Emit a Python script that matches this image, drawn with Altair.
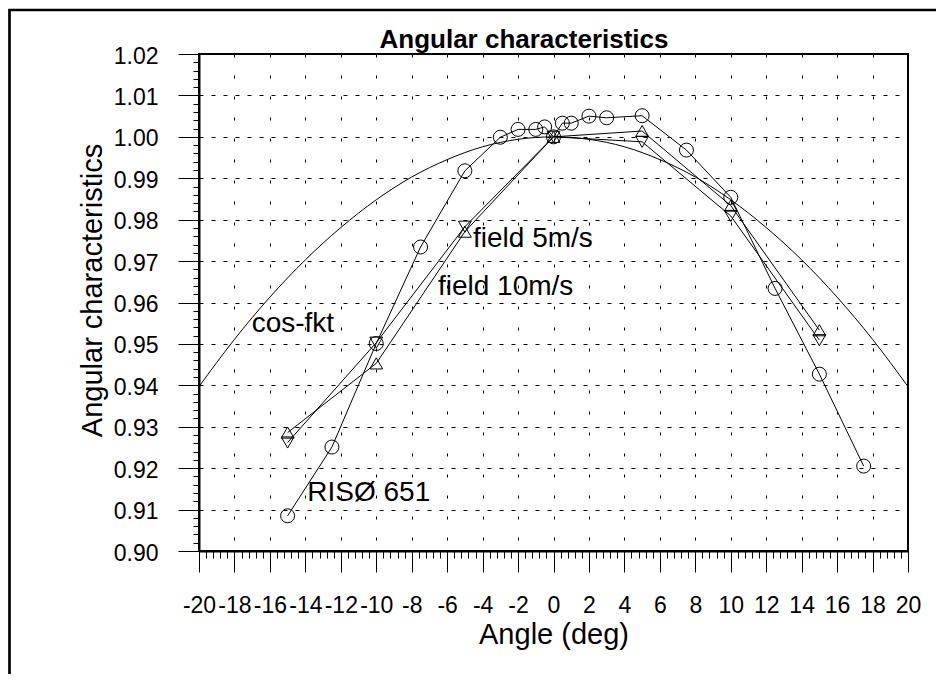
import altair as alt
import pandas as pd

FONT = "Liberation Sans, Arial, sans-serif"

# ---- data ----
cos_x = [-20, -18, -16, -14, -12, -10, -8, -6, -4, -2, 0, 2, 4, 6, 8, 10, 12, 14, 16, 18, 20]
cos_y = [0.9397, 0.9511, 0.9613, 0.9703, 0.9781, 0.9848, 0.9903, 0.9945, 0.9976, 0.9994, 1.0000,
         0.9994, 0.9976, 0.9945, 0.9903, 0.9848, 0.9781, 0.9703, 0.9613, 0.9511, 0.9397]

ris_x = [-15, -12.5, -10, -7.5, -5, -3, -2, -1, -0.5, 0, 0.5, 1, 2, 3, 5, 7.5, 10, 12.5, 15, 17.5]
ris_y = [0.9085, 0.9251, 0.9501, 0.9734, 0.9918, 0.9999, 1.0018, 1.0018, 1.0024, 1.0000,
         1.0033, 1.0033, 1.0050, 1.0046, 1.0051, 0.9968, 0.9854, 0.9634, 0.9427, 0.9205]

field_x = [-15, -10, -5, 0, 5, 10, 15]
f5_y = [0.9262, 0.9503, 0.9783, 1.0000, 0.9988, 0.9809, 0.9509]
f10_y = [0.9286, 0.9453, 0.9771, 1.0000, 1.0014, 0.9834, 0.9533]

label_text = ["cos-fkt", "field 5m/s", "field 10m/s", "RISØ 651"]
label_x = [-17.03, -4.54, -6.52, -13.89]
label_y = [0.9529, 0.9733, 0.9618, 0.9121]

x_major = [-20, -18, -16, -14, -12, -10, -8, -6, -4, -2, 0, 2, 4, 6, 8, 10, 12, 14, 16, 18, 20]
y_major = [0.90, 0.91, 0.92, 0.93, 0.94, 0.95, 0.96, 0.97, 0.98, 0.99, 1.00, 1.01, 1.02]
x_minor = [round(-20 + 0.4 * i, 1) for i in range(101)]
y_minor = [round(0.90 + 0.002 * i, 3) for i in range(61)]

TITLE = "Angular characteristics"

# ---- tables ----
cos_df = pd.DataFrame({"angle": cos_x, "value": cos_y})
ris_df = pd.DataFrame({"angle": ris_x, "value": ris_y})
f5_df = pd.DataFrame({"angle": field_x, "value": f5_y})
f10_df = pd.DataFrame({"angle": field_x, "value": f10_y})
lab_df = pd.DataFrame({"label": label_text, "angle": label_x, "value": label_y})
one = pd.DataFrame({"t": [TITLE]})

xs = alt.Scale(domain=[-20, 20], nice=False)
ys = alt.Scale(domain=[0.90, 1.02], nice=False, zero=False)

major_x = alt.Axis(values=x_major, orient="bottom", tickSize=21, tickColor="black", tickWidth=1,
                   domainColor="black", domainWidth=2, labelFont=FONT, labelFontSize=23,
                   labelColor="black", labelPadding=22, labelFlush=False, labelOverlap=False,
                   labelExpr="datum.value < 0 ? '-' + abs(datum.value) : '' + datum.value",
                   grid=True, gridColor="black", gridDash=[3, 18], gridWidth=1, gridOpacity=1,
                   title="Angle (deg)", titleFont=FONT, titleFontSize=29, titleFontWeight="normal",
                   titleColor="black", titleBaseline="alphabetic", titleY=92)
major_y = alt.Axis(values=y_major, orient="left", format=".2f", tickSize=21, tickColor="black",
                   tickWidth=1, domainColor="black", domainWidth=2, labelFont=FONT, labelFontSize=23,
                   labelColor="black", labelPadding=20, labelOffset=2, labelOverlap=False,
                   labelFlush=False,
                   grid=True, gridColor="black", gridDash=[4, 8], gridWidth=1, gridOpacity=1,
                   title="Angular characteristics", titleFont=FONT, titleFontSize=29,
                   titleFontWeight="normal", titleColor="black", titleBaseline="alphabetic",
                   titleX=-98, titleY=236)
minor_x = alt.Axis(values=x_minor, orient="bottom", tickSize=7, tickColor="black", tickWidth=1,
                   labels=False, domain=False, grid=False, title=None)
minor_y = alt.Axis(values=y_minor, orient="left", tickSize=6, tickColor="black", tickWidth=1,
                   labels=False, domain=False, grid=False, title=None)

cos_layer = alt.Chart(cos_df).mark_line(color="black", strokeWidth=1, interpolate="monotone").encode(
    x=alt.X("angle:Q", scale=xs, axis=minor_x),
    y=alt.Y("value:Q", scale=ys, axis=minor_y),
)

ris_line = alt.Chart(ris_df).mark_line(color="black", strokeWidth=1).encode(
    x=alt.X("angle:Q", scale=xs, axis=major_x),
    y=alt.Y("value:Q", scale=ys, axis=major_y),
)
ris_pts = alt.Chart(ris_df).mark_point(shape="circle", filled=False, size=196, color="black",
                                       strokeWidth=1, opacity=1).encode(
    x=alt.X("angle:Q", scale=xs, axis=None),
    y=alt.Y("value:Q", scale=ys, axis=None),
)

def field_layers(df, shape):
    line = alt.Chart(df).mark_line(color="black", strokeWidth=1).encode(
        x=alt.X("angle:Q", scale=xs, axis=None),
        y=alt.Y("value:Q", scale=ys, axis=None),
    )
    pts = alt.Chart(df).mark_point(shape=shape, filled=False, size=165, color="black",
                                   strokeWidth=1, opacity=1).encode(
        x=alt.X("angle:Q", scale=xs, axis=None),
        y=alt.Y("value:Q", scale=ys, axis=None),
    )
    return [line, pts]

labels = alt.Chart(lab_df).mark_text(font=FONT, fontSize=28, color="black", align="left",
                                     baseline="alphabetic").encode(
    x=alt.X("angle:Q", scale=xs, axis=None),
    y=alt.Y("value:Q", scale=ys, axis=None),
    text="label:N",
)

title_mark = alt.Chart(one).mark_text(font=FONT, fontSize=26, fontWeight="bold", color="black",
                                      align="center", baseline="alphabetic").encode(
    x=alt.value(325), y=alt.value(-6.5), text="t:N"
)

frame = alt.Chart(one).mark_rect(fill="transparent", stroke="black", strokeWidth=2.7).encode(
    x=alt.value(-189.5), x2=alt.value(780), y=alt.value(-44), y2=alt.value(700)
)

chart = alt.layer(
    cos_layer, ris_line, ris_pts,
    *field_layers(f5_df, "triangle-down"),
    *field_layers(f10_df, "triangle-up"),
    labels, title_mark, frame,
).resolve_axis(x="independent", y="independent").properties(
    width=709, height=497,
    autosize=alt.AutoSizeParams(type="none"),
    padding={"left": 191, "top": 46, "right": 28, "bottom": 123},
    background="white",
).configure_view(stroke="black", strokeWidth=2)

chart.save("out.html", embed_options={"renderer": "svg", "actions": False})
